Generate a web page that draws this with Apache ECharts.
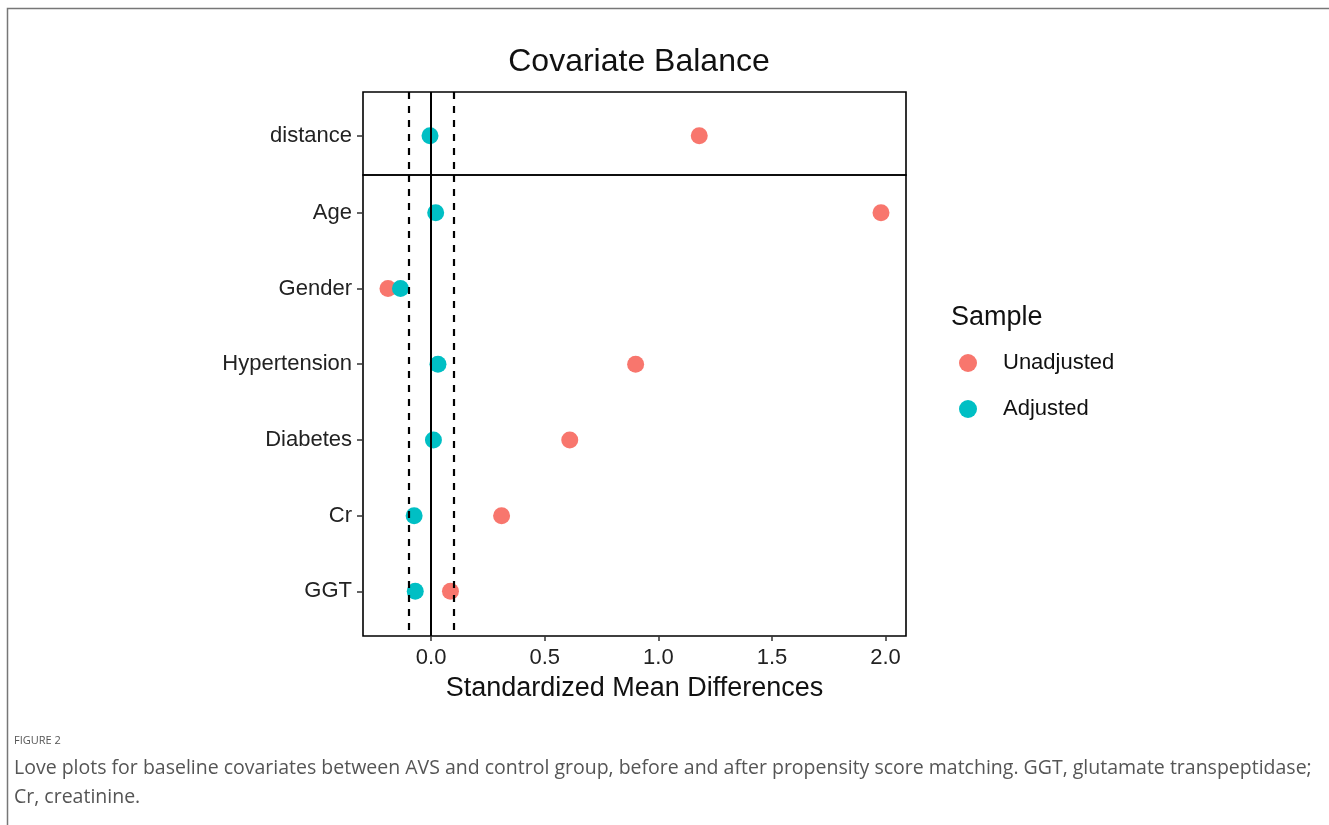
<!DOCTYPE html>
<html>
<head>
<meta charset="utf-8">
<title>Covariate Balance</title>
<script src="https://cdn.jsdelivr.net/npm/echarts@6/dist/echarts.min.js"></script>
<style>
  *{ margin:0; padding:0; }
  body{ background:#fff; }
  #chart{ width:1329px; height:825px; }
</style>
</head>
<body>
<div id="chart"></div>
<script>
// facet 1: distance, facet 2: covariates
var topCats = ['distance'];
var mainCats = ['Age', 'Gender', 'Hypertension', 'Diabetes', 'Cr', 'GGT'];

var distUnadj = [1.18];
var distAdj = [-0.005];
var unadjusted = [1.98, -0.19, 0.90, 0.61, 0.31, 0.085];
var adjusted = [0.02, -0.135, 0.03, 0.01, -0.075, -0.07];

var xTicks = [0, 0.5, 1, 1.5, 2];
var threshold = 0.1;

var red = '#F8766D', teal = '#00BFC4';
var FONT = 'Arial, "Liberation Sans", sans-serif';

// rows are placed by their index in the category list
function pairs(vals){
    return vals.map(function(v, i){ return [v, i]; });
}

var refLines = {
    silent: true,
    symbol: 'none',
    label: { show: false },
    animation: false,
    data: [
        { xAxis: -threshold, lineStyle: { color: '#000', width: 2.2, type: [7, 7] } },
        { xAxis: threshold, lineStyle: { color: '#000', width: 2.2, type: [7, 7] } },
        { xAxis: 0, lineStyle: { color: '#000', width: 2, type: 'solid' } }
    ]
};

function xAxisCfg(idx, showLabels){
    return {
        type: 'value', gridIndex: idx, min: -0.3, max: 2.09,
        splitLine: { show: false },
        axisLine: { show: false, onZero: false },
        axisTick: { show: showLabels, length: 5, customValues: xTicks, lineStyle: { color: '#333', width: 1.5 } },
        axisLabel: {
            show: showLabels, customValues: xTicks, margin: 11,
            fontSize: 22, color: '#222', fontFamily: FONT,
            formatter: function(v){ return v.toFixed(1); }
        },
        name: showLabels ? 'Standardized Mean Differences' : '',
        nameLocation: 'middle', nameGap: 39,
        nameTextStyle: { fontSize: 27, color: '#111', fontFamily: FONT }
    };
}

function yAxisCfg(idx, cats, lo, hi){
    var rows = cats.map(function(c, i){ return i; });
    return {
        type: 'value', gridIndex: idx, inverse: true, min: lo, max: hi,
        axisLine: { show: false, onZero: false },
        axisTick: { show: true, customValues: rows, length: 6, lineStyle: { color: '#333', width: 1.5 } },
        axisLabel: {
            customValues: rows, fontSize: 22, color: '#222', margin: 11, fontFamily: FONT,
            formatter: function(v){ return cats[Math.round(v)]; }
        },
        splitLine: { show: false }
    };
}

function dots(name, color, xi, vals){
    return {
        name: name, type: 'scatter', xAxisIndex: xi, yAxisIndex: xi,
        data: pairs(vals), symbolSize: 17, z: 3,
        itemStyle: { color: color, opacity: 1 }
    };
}

var chart = echarts.init(document.getElementById('chart'));
chart.setOption({
    animation: false,
    backgroundColor: '#fff',
    title: [
        { text: 'Covariate Balance', left: 634, top: 41, textAlign: 'center',
          textStyle: { fontSize: 32, fontWeight: 'normal', color: '#111', fontFamily: FONT } },
        { text: 'Sample', left: 946, top: 299,
          textStyle: { fontSize: 27, fontWeight: 'normal', color: '#111', fontFamily: FONT } }
    ],
    legend: {
        data: ['Unadjusted', 'Adjusted'],
        orient: 'vertical', left: 954, top: 347,
        icon: 'circle', itemWidth: 18, itemHeight: 18, itemGap: 24,
        textStyle: { fontSize: 22, color: '#111', fontFamily: FONT, padding: [0, 0, 0, 21] }
    },
    grid: [
        { left: 363, top: 92, width: 543, height: 83, show: true, borderColor: '#000', borderWidth: 1.6 },
        { left: 363, top: 175, width: 543, height: 461, show: true, borderColor: '#000', borderWidth: 1.6 }
    ],
    xAxis: [xAxisCfg(0, false), xAxisCfg(1, true)],
    yAxis: [yAxisCfg(0, topCats, -0.58, 0.52), yAxisCfg(1, mainCats, -0.5, 5.59)],
    series: [
        { type: 'scatter', xAxisIndex: 0, yAxisIndex: 0, data: [], z: 1, markLine: refLines },
        { type: 'scatter', xAxisIndex: 1, yAxisIndex: 1, data: [], z: 1, markLine: refLines },
        dots('Unadjusted', red, 0, distUnadj),
        dots('Adjusted', teal, 0, distAdj),
        dots('Unadjusted', red, 1, unadjusted),
        dots('Adjusted', teal, 1, adjusted)
    ],
    graphic: [
        { type: 'rect', silent: true, shape: { x: 7.5, y: 8.5, width: 1400, height: 900 },
          style: { fill: 'none', stroke: '#777', lineWidth: 1.5 } },
        { type: 'text', left: 14, top: 735,
          style: { text: 'FIGURE 2', fontSize: 11, fill: '#555', fontFamily: '"Open Sans", sans-serif' } },
        { type: 'text', left: 14, top: 754,
          style: { text: 'Love plots for baseline covariates between AVS and control group, before and after propensity score matching. GGT, glutamate transpeptidase;\nCr, creatinine.',
                   fontSize: 19.5, lineHeight: 29, fill: '#555', fontFamily: '"Open Sans", sans-serif' } }
    ]
});
</script>
</body>
</html>
